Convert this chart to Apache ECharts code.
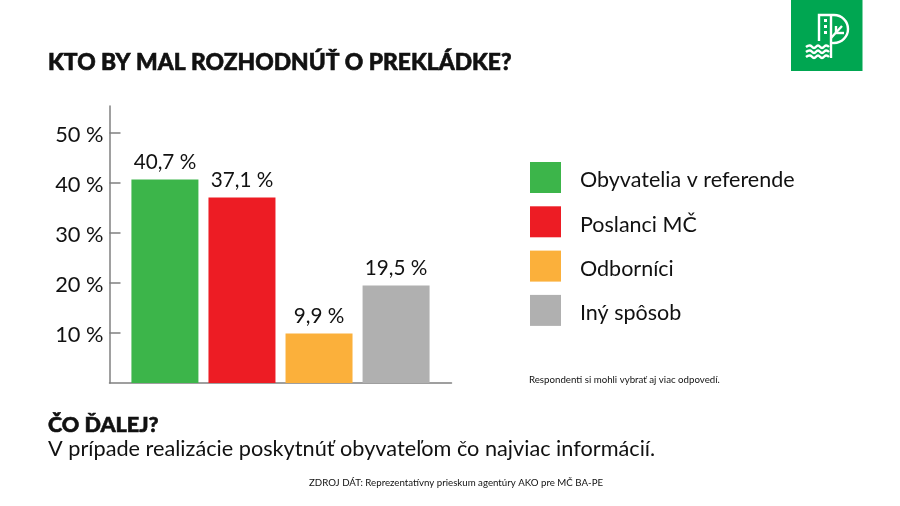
<!DOCTYPE html>
<html>
<head>
<meta charset="utf-8">
<style>
  html, body { margin: 0; padding: 0; background: #fff; }
  #main { width: 900px; height: 506px; }
</style>
<script src="https://cdn.jsdelivr.net/npm/echarts@6/dist/echarts.min.js"></script>
</head>
<body>
<div id="main"></div>
<script>
const names = ["Obyvatelia v referende", "Poslanci MČ", "Odborníci", "Iný spôsob"];
const values = [40.7, 37.1, 9.9, 19.5];
const colors = ["#3cb54a", "#ed1c24", "#fbb03b", "#b0b0b0"];
const yTicks = [10, 20, 30, 40, 50];

const FONT = "Lato";
const INK = "#111";

function pct(v) {
  return String(v).replace(".", ",") + " %";
}

function titleAt(text, left, top, fontSize, fontWeight) {
  const heavy = fontWeight > 400;
  return {
    text, left, top, padding: 0,
    textStyle: {
      fontFamily: FONT, fontSize, fontWeight, color: INK,
      textBorderColor: heavy ? INK : "transparent",
      textBorderWidth: heavy ? 0.6 : 0
    }
  };
}

const logoColor = "#00a651";
const logoLine = { stroke: "#fff", lineWidth: 2.4, fill: "none" };

function logoPoly(points, smooth) {
  return { type: "polyline", shape: { points, smooth: smooth || 0 }, style: logoLine, silent: true };
}

function logoWave(y) {
  return logoPoly([[806, y], [810, y - 1.5], [814, y + 1], [818, y - 1.5], [822, y + 1], [826, y - 1.5], [829, y]], 0.5);
}

function logoWindow(y) {
  return { type: "rect", shape: { x: 824, y, width: 3, height: 3 }, style: { fill: "#fff" }, silent: true };
}

const myEchart = echarts.init(document.getElementById("main"), null, { renderer: "canvas" });

myEchart.setOption({
  animation: false,
  backgroundColor: "#fff",
  textStyle: { fontFamily: FONT, color: INK },
  title: [
    titleAt("KTO BY MAL ROZHODNÚŤ O PREKLÁDKE?", 48, 51, 22.8, 900),
    titleAt("ČO ĎALEJ?", 48, 414, 21.6, 900),
    titleAt("V prípade realizácie poskytnúť obyvateľom čo najviac informácií.", 48, 438, 21.7, 400),
    titleAt("Respondenti si mohli vybrať aj viac odpovedí.", 529, 375, 9.7, 400),
    titleAt("ZDROJ DÁT: Reprezentatívny prieskum agentúry AKO pre MČ BA-PE", 309, 478, 9.7, 400)
  ],
  grid: { left: 109.5, top: 106, width: 342, height: 277, containLabel: false },
  legend: {
    orient: "vertical",
    left: 530,
    top: 162,
    padding: 0,
    icon: "rect",
    itemWidth: 31,
    itemHeight: 31,
    itemGap: 13.3,
    selectedMode: false,
    data: names,
    formatter: n => "{a|" + n + "}",
    textStyle: {
      fontFamily: FONT, fontSize: 21.5, color: INK,
      rich: { a: { fontFamily: FONT, fontSize: 21.5, color: INK, padding: [6, 0, 0, 14] } }
    }
  },
  xAxis: {
    type: "category",
    data: [""],
    axisLine: { lineStyle: { color: "#808080", width: 1.5 } },
    axisTick: { show: false },
    axisLabel: { show: false }
  },
  yAxis: {
    type: "value",
    min: 0,
    max: 55.4,
    interval: 10,
    splitLine: { show: false },
    axisLine: { show: true, lineStyle: { color: "#808080", width: 1.5 } },
    axisTick: { show: true, inside: true, length: 11, customValues: yTicks, lineStyle: { color: "#808080", width: 1.5 } },
    axisLabel: {
      margin: 6,
      customValues: yTicks,
      formatter: v => "{a|" + v + " %}",
      rich: { a: { fontFamily: FONT, fontSize: 21.8, color: INK, padding: [4, 0, 0, 0] } }
    }
  },
  series: names.map((name, i) => ({
    name,
    type: "bar",
    barWidth: 67,
    barGap: "15%",
    data: [values[i]],
    itemStyle: { color: colors[i] },
    label: {
      show: true,
      position: "top",
      distance: 7,
      fontFamily: FONT,
      fontSize: 20.7,
      color: INK,
      formatter: p => pct(p.value)
    }
  })),
  graphic: [
    { type: "rect", shape: { x: 791, y: 0, width: 71.5, height: 71 }, style: { fill: logoColor }, silent: true },
    logoPoly([[819, 41], [819, 15], [834, 15]]),
    { type: "arc", shape: { cx: 834, cy: 29, r: 14, startAngle: -Math.PI / 2, endAngle: Math.PI / 2 }, style: logoLine, silent: true },
    logoPoly([[834, 43], [831, 43]]),
    logoPoly([[831, 15], [831, 58]]),
    logoPoly([[831, 38], [842, 26]]),
    logoPoly([[836, 26], [836, 33]]),
    logoPoly([[836, 33], [844, 33]]),
    logoWindow(19),
    logoWindow(25),
    logoWindow(31),
    logoWave(47),
    logoWave(52),
    logoWave(57)
  ]
});
</script>
</body>
</html>
